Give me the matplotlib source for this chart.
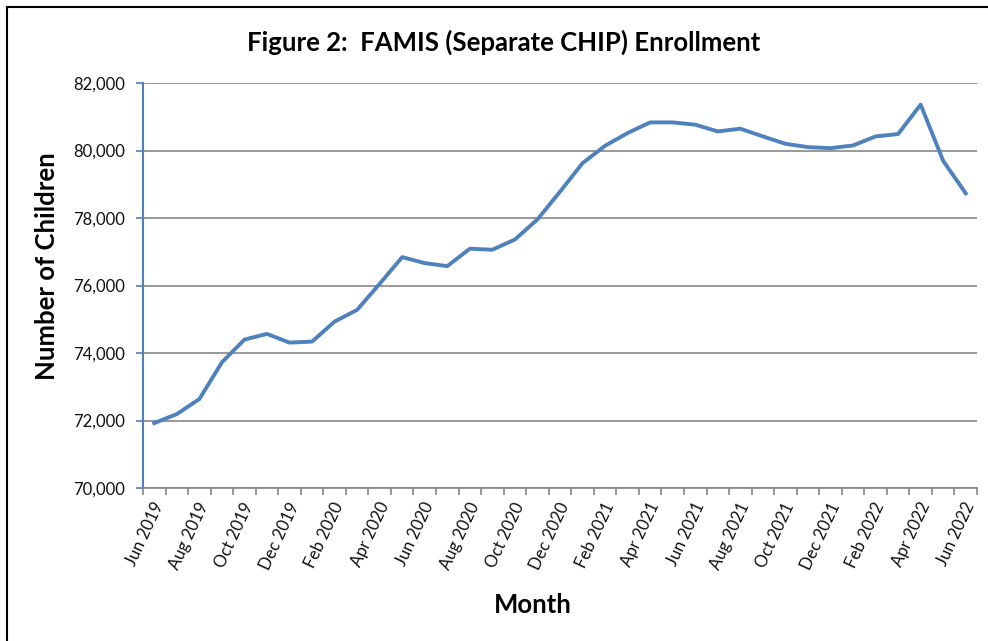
import matplotlib
matplotlib.use("Agg")
import matplotlib.pyplot as plt
from matplotlib.ticker import FuncFormatter, FixedLocator
from matplotlib.lines import Line2D
import matplotlib.transforms as mtransforms

months = ["Jun 2019", "Jul 2019", "Aug 2019", "Sep 2019", "Oct 2019", "Nov 2019",
          "Dec 2019", "Jan 2020", "Feb 2020", "Mar 2020", "Apr 2020", "May 2020",
          "Jun 2020", "Jul 2020", "Aug 2020", "Sep 2020", "Oct 2020", "Nov 2020",
          "Dec 2020", "Jan 2021", "Feb 2021", "Mar 2021", "Apr 2021", "May 2021",
          "Jun 2021", "Jul 2021", "Aug 2021", "Sep 2021", "Oct 2021", "Nov 2021",
          "Dec 2021", "Jan 2022", "Feb 2022", "Mar 2022", "Apr 2022", "May 2022",
          "Jun 2022"]
enrollment = [71923, 72190, 72635, 73723, 74397, 74566,
              74308, 74338, 74931, 75279, 76051, 76841,
              76663, 76574, 77090, 77060, 77363, 77958,
              78780, 79625, 80140, 80518, 80833, 80833,
              80765, 80565, 80646, 80417, 80199, 80100,
              80070, 80149, 80417, 80488, 81360, 79693,
              78732]
yticks = [70000, 72000, 74000, 76000, 78000, 80000, 82000]

FONT = "Lato"
plt.rcParams["font.family"] = [FONT, "DejaVu Sans"]

fig = plt.figure(figsize=(9.88, 6.41), dpi=100)
W, H = 988, 641
ax = fig.add_axes([143 / W, 1 - 488 / H, (977 - 143) / W, (488 - 83) / H])

x = list(range(len(months)))
ax.plot(x, enrollment, color="#4F81BD", lw=2.8, solid_joinstyle="round", zorder=3)

ax.set_xlim(-0.5, len(months) - 0.5)
ax.set_ylim(70000, 82000)
ax.set_yticks(yticks)
ax.yaxis.set_major_formatter(FuncFormatter(lambda v, p: f"{int(v):,}"))
ax.grid(axis="y", color="#868686", lw=1.2, zorder=1)
ax.tick_params(axis="y", length=5, width=1.2, color="#4F81BD", labelsize=12, pad=8, labelcolor="#111111")

ax.set_xticks(x[::2])
ax.set_xticklabels(months[::2], rotation=65, ha="right", va="center",
                   rotation_mode="anchor", fontsize=12, color="#111111")
ax.xaxis.set_minor_locator(FixedLocator([i - 0.5 for i in range(len(months) + 1)]))
ax.tick_params(axis="x", which="major", length=0, pad=11)
ax.tick_params(axis="x", which="minor", length=5, width=1.2, color="#868686")
offset = mtransforms.ScaledTranslation(5 / 100, 0, fig.dpi_scale_trans)
for lab in ax.get_xticklabels():
    lab.set_transform(lab.get_transform() + offset)

for s in ["top", "right"]:
    ax.spines[s].set_visible(False)
ax.spines["left"].set_color("#4F81BD")
ax.spines["left"].set_linewidth(1.5)
ax.spines["bottom"].set_color("#868686")
ax.spines["bottom"].set_linewidth(1.2)

fig.text(504 / W, 1 - 42 / H, "Figure 2:  FAMIS (Separate CHIP) Enrollment",
         ha="center", va="center", fontsize=18.5, fontweight="bold", color="black")
fig.text(47 / W, 1 - 266 / H, "Number of Children", rotation=90, ha="center",
         va="center", fontsize=18.5, fontweight="bold", color="black")
fig.text(533 / W, 1 - 605 / H, "Month", ha="center", va="center",
         fontsize=18.5, fontweight="bold", color="black")

fig.add_artist(Line2D([7 / W, 7 / W], [0, 1 - 7 / H], transform=fig.transFigure,
                      color="black", lw=1.5))
fig.add_artist(Line2D([7 / W, 1], [1 - 7 / H, 1 - 7 / H], transform=fig.transFigure,
                      color="black", lw=1.5))

fig.savefig("out.png", dpi=100, facecolor="white")
